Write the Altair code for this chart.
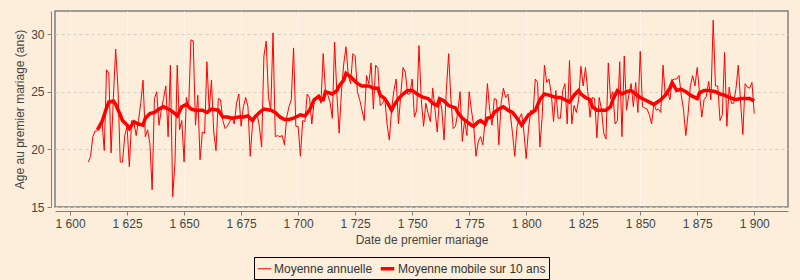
import altair as alt
import pandas as pd

years = list(range(1608, 1901))
annual = [
    18.9, 19.4,                                                  # 1608-1609
    21.1, 21.6, 21.6, 21.8, 22.5, 19.9, 26.9, 26.6, 19.7, 24.5,  # 1610s
    28.7, 25.4, 18.9, 18.9, 21.2, 22.0, 18.5, 22.5, 22.3, 21.2,  # 1620s
    22.5, 24.0, 26.0, 21.1, 21.7, 20.5, 16.5, 24.4, 25.0, 22.1,  # 1630s
    23.4, 24.4, 25.5, 21.1, 27.3, 15.9, 18.8, 27.3, 21.7, 22.5,  # 1640s
    18.9, 24.5, 23.6, 29.5, 29.4, 22.1, 24.7, 19.1, 21.5, 21.4,  # 1650s
    27.6, 23.4, 26.0, 21.5, 19.9, 24.4, 24.3, 22.5, 21.8, 22.0,  # 1660s
    22.4, 22.8, 22.2, 24.0, 24.8, 22.0, 23.7, 24.5, 23.7, 19.4,  # 1670s
    22.2, 22.8, 23.1, 22.0, 20.2, 28.1, 29.4, 24.5, 23.4, 30.1,  # 1680s
    21.1, 21.2, 21.1, 21.2, 20.4, 22.8, 23.7, 24.3, 28.8, 22.0,  # 1690s
    22.0, 19.4, 22.5, 22.4, 24.8, 24.5, 22.2, 24.1, 24.4, 24.7,  # 1700s
    24.0, 28.3, 25.0, 24.7, 24.1, 22.7, 29.3, 24.8, 21.4, 25.0,  # 1710s
    27.4, 28.9, 26.4, 25.7, 28.3, 28.1, 25.0, 24.3, 23.4, 22.5,  # 1720s
    26.4, 25.7, 27.5, 23.5, 27.3, 27.0, 23.8, 24.0, 24.4, 22.2,  # 1730s
    20.8, 23.5, 25.1, 26.1, 22.2, 24.7, 27.1, 26.7, 24.8, 24.8,  # 1740s
    26.1, 22.8, 23.4, 29.0, 24.3, 22.0, 24.0, 23.1, 22.4, 25.3,  # 1750s
    23.5, 21.5, 24.5, 23.5, 20.8, 25.1, 28.3, 24.3, 21.8, 22.0,  # 1760s
    23.2, 25.0, 20.7, 22.5, 21.2, 25.0, 23.4, 22.0, 19.4, 20.7,  # 1770s
    21.1, 20.4, 22.5, 25.7, 23.4, 22.1, 24.4, 24.3, 20.4, 24.0,  # 1780s
    25.3, 24.5, 24.8, 23.1, 21.4, 19.4, 22.0, 22.7, 23.1, 21.5,  # 1790s
    19.2, 21.7, 23.4, 23.1, 26.1, 25.8, 20.2, 22.8, 27.3, 25.8,  # 1800s
    26.1, 24.8, 22.4, 25.1, 22.7, 22.7, 25.1, 25.7, 22.2, 27.7,  # 1810s
    22.2, 23.8, 23.2, 24.3, 27.2, 25.5, 27.1, 25.0, 22.8, 24.5,  # 1820s
    24.4, 21.0, 24.5, 23.5, 21.4, 20.9, 27.5, 24.4, 25.0, 22.2,  # 1830s
    22.5, 27.6, 21.1, 28.1, 23.4, 24.7, 25.7, 23.7, 25.8, 23.2,  # 1840s
    28.5, 23.7, 23.6, 23.5, 23.0, 22.2, 24.0, 23.4, 23.5, 23.2,  # 1850s
    27.3, 24.6, 25.1, 24.3, 26.0, 26.1, 26.1, 26.4, 24.7, 23.4,  # 1860s
    21.2, 23.1, 25.5, 26.4, 25.5, 27.1, 24.9, 22.8, 24.3, 24.6,  # 1870s
    25.9, 24.3, 31.2, 25.5, 25.5, 22.5, 23.0, 28.4, 22.0, 25.4,  # 1880s
    24.0, 24.0, 25.3, 27.3, 24.1, 21.3, 25.7, 25.4, 25.3, 25.8,  # 1890s
    23.1,                                                        # 1900
]

ma_years = [
    1612, 1614, 1616, 1617, 1619, 1620, 1622, 1623, 1625, 1626, 1628, 1630,
    1632, 1633, 1635, 1637, 1639, 1641, 1644, 1646, 1647, 1649, 1651, 1653,
    1655, 1658, 1660, 1662, 1665, 1667, 1669, 1671, 1674, 1676, 1678, 1680,
    1681, 1683, 1685, 1688, 1690, 1692, 1694, 1696, 1698, 1701, 1703, 1705,
    1707, 1709, 1710, 1711, 1712, 1715, 1717, 1718, 1720, 1721, 1723, 1724,
    1726, 1728, 1731, 1733, 1735, 1736, 1738, 1739, 1741, 1742, 1744, 1746,
    1748, 1750, 1753, 1755, 1757, 1759, 1761, 1762, 1764, 1766, 1769, 1770,
    1772, 1774, 1776, 1777, 1779, 1780, 1782, 1783, 1785, 1786, 1788, 1790,
    1792, 1794, 1796, 1798, 1799, 1801, 1802, 1804, 1806, 1808, 1810, 1813,
    1815, 1817, 1819, 1821, 1823, 1824, 1826, 1828, 1829, 1831, 1833, 1835,
    1837, 1838, 1840, 1842, 1844, 1846, 1848, 1850, 1852, 1854, 1856, 1859,
    1861, 1863, 1864, 1866, 1868, 1870, 1872, 1875, 1876, 1878, 1880, 1883,
    1885, 1887, 1889, 1892, 1894, 1896, 1898, 1900,
]
ma_values = [
    21.7, 22.4, 23.6, 24.1, 24.2, 23.9, 23.0, 22.5, 22.1, 21.8, 22.4, 22.2,
    22.1, 22.7, 23.1, 23.2, 23.5, 23.7, 23.4, 23.1, 22.9, 23.7, 23.9, 23.5,
    23.4, 23.4, 23.2, 23.5, 23.4, 22.8, 22.8, 22.7, 22.8, 22.8, 22.9, 22.5,
    22.8, 23.2, 23.5, 23.4, 23.2, 22.8, 22.6, 22.6, 22.7, 23.0, 22.9, 23.4,
    24.3, 24.6, 24.3, 24.3, 25.0, 24.8, 25.1, 25.5, 26.0, 26.6, 26.3, 26.1,
    25.7, 25.5, 25.5, 25.3, 25.3, 24.7, 24.4, 24.1, 23.4, 23.8, 24.4, 24.8,
    25.1, 25.1, 24.7, 24.5, 24.4, 24.0, 23.8, 24.4, 24.2, 23.8, 23.6, 23.2,
    22.7, 22.4, 22.1, 22.0, 22.4, 22.5, 22.2, 22.7, 22.8, 23.2, 23.5, 23.7,
    23.4, 23.2, 22.7, 22.1, 22.4, 23.0, 23.1, 23.4, 24.3, 24.8, 24.7, 24.5,
    24.5, 24.3, 24.1, 24.7, 25.1, 24.8, 24.5, 24.3, 23.7, 23.4, 23.4, 23.4,
    23.7, 24.3, 25.1, 24.8, 25.0, 25.1, 24.8, 24.5, 24.3, 24.1, 23.9, 24.3,
    24.7, 25.3, 25.8, 25.1, 25.2, 25.0, 24.7, 24.4, 24.9, 25.1, 25.1, 25.0,
    24.8, 24.7, 24.5, 24.3, 24.4, 24.4, 24.4, 24.2,
]

series_names = ["Moyenne annuelle", "Moyenne mobile sur 10 ans"]
x_ticks = [1600, 1625, 1650, 1675, 1700, 1725, 1750, 1775, 1800, 1825, 1850, 1875, 1900]
y_ticks = [15, 20, 25, 30]

df = pd.concat([
    pd.DataFrame({"annee": years, "age": annual, "serie": series_names[0]}),
    pd.DataFrame({"annee": ma_years, "age": ma_values, "serie": series_names[1]}),
], ignore_index=True)

BG = "#FCEEDB"
FONT = "Liberation Sans"
TXT = "#444444"
label_expr = "replace(format(datum.value, ',d'), ',', ' ')"

legend = alt.Legend(
    title=None,
    orient="none",
    legendX=199,
    legendY=246,
    direction="horizontal",
    strokeColor="#000000",
    fillColor=BG,
    padding=3,
    symbolType="stroke",
    symbolSize=180,
    labelFont=FONT,
    labelFontSize=12,
    labelColor="#333333",
    labelOffset=2,
    columnPadding=0,
)

chart = alt.Chart(df).mark_line(clip=True).encode(
    x=alt.X(
        "annee:Q",
        scale=alt.Scale(domain=[1593.4, 1914.8], nice=False, zero=False),
        axis=alt.Axis(
            title="Date de premier mariage",
            values=x_ticks,
            labelExpr=label_expr,
            offset=4,
            gridColor="#FFFFFF",
            gridDash=[2, 2],
            gridOpacity=0.9,
            titlePadding=5,
            labelPadding=3,
        ),
    ),
    y=alt.Y(
        "age:Q",
        scale=alt.Scale(domain=[15, 32], nice=False, zero=False),
        axis=alt.Axis(
            title="Age au premier mariage (ans)",
            values=y_ticks,
            offset=4,
            gridColor="#D9CFC2",
            gridDash=[3, 3],
            titlePadding=4,
            labelPadding=3,
        ),
    ),
    color=alt.Color(
        "serie:N",
        scale=alt.Scale(domain=series_names, range=["#FF0000", "#FF0000"]),
        legend=legend,
    ),
    strokeWidth=alt.StrokeWidth(
        "serie:N",
        scale=alt.Scale(type="ordinal", domain=series_names, range=[1, 3.5]),
        legend=legend,
    ),
).properties(
    width=733,
    height=196,
    background=BG,
    padding={"left": 55, "top": 11, "right": 12, "bottom": 73},
    autosize=alt.AutoSizeParams(type="none"),
).configure_view(
    stroke="#808080",
    strokeWidth=1.5,
    fill=BG,
).configure_axis(
    domainColor="#808080",
    tickColor="#808080",
    tickSize=4,
    labelFont=FONT,
    labelFontSize=12,
    labelColor=TXT,
    titleFont=FONT,
    titleFontSize=12,
    titleFontWeight="normal",
    titleColor=TXT,
)

chart.save("out.html", embed_options={"renderer": "svg", "actions": False})
